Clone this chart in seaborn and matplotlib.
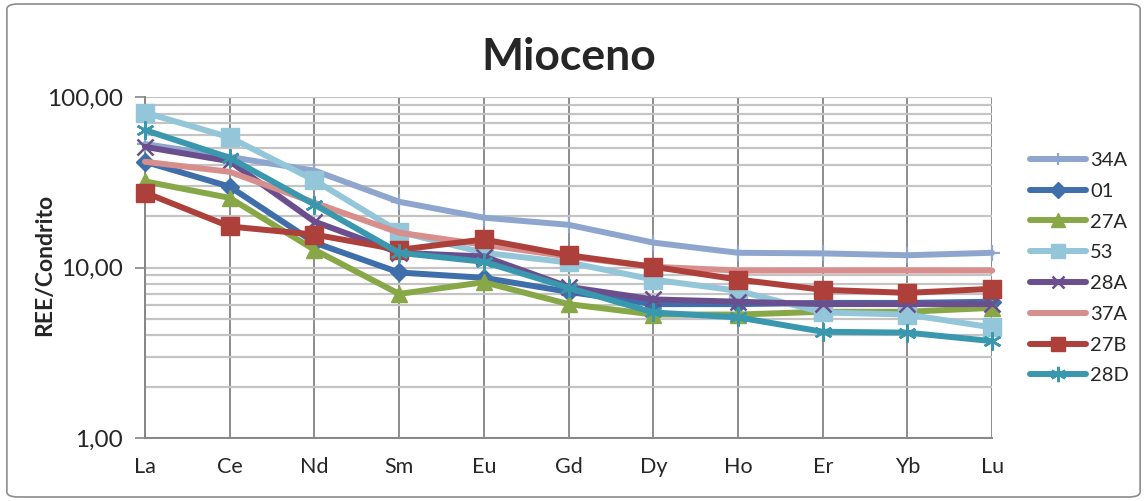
import matplotlib
matplotlib.use("Agg")
import matplotlib.pyplot as plt
import matplotlib.ticker as mticker
from matplotlib.patches import FancyBboxPatch
from matplotlib.lines import Line2D
import numpy as np
import pandas as pd
import seaborn as sns

# Rare earth elements (chondrite-normalised)
elements = ["La", "Ce", "Nd", "Sm", "Eu", "Gd", "Dy", "Ho", "Er", "Yb", "Lu"]

s34A = [53.0, 44.5, 37.0, 24.3, 19.6, 17.8, 14.0, 12.2, 12.1, 11.8, 12.2]
s01 = [41.7, 29.8, 14.0, 9.35, 8.7, 7.2, 6.1, 6.1, 6.2, 6.2, 6.3]
s27A = [32.0, 25.6, 12.7, 7.0, 8.2, 6.1, 5.3, 5.3, 5.5, 5.5, 5.8]
s53 = [81.0, 58.0, 32.5, 16.2, 12.2, 10.7, 8.5, 7.3, 5.45, 5.3, 4.45]
s28A = [51.0, 42.0, 18.6, 12.2, 11.6, 7.7, 6.5, 6.3, 6.1, 6.1, 6.1]
s37A = [41.7, 36.4, 24.0, 16.0, 13.6, 11.6, 10.1, 9.6, 9.6, 9.6, 9.6]
s27B = [27.5, 17.4, 15.6, 12.7, 14.6, 11.8, 10.1, 8.5, 7.4, 7.1, 7.5]
s28D = [64.0, 44.0, 23.4, 12.2, 10.8, 7.6, 5.45, 5.1, 4.2, 4.15, 3.7]

series_names = ["34A", "01", "27A", "53", "28A", "37A", "27B", "28D"]
series_values = [s34A, s01, s27A, s53, s28A, s37A, s27B, s28D]

title = "Mioceno"
ylabel = "REE/Condrito"

colors = {
    "34A": "#8EA6CE",
    "01": "#3F6FAA",
    "27A": "#88A848",
    "53": "#93C6D8",
    "28A": "#6B4E8E",
    "37A": "#D78E8C",
    "27B": "#AE403C",
    "28D": "#3A98AE",
}
markers = {
    "34A": ("+", 11, 1.6),
    "01": ("D", 9.5, 1.0),
    "27A": ("^", 11.5, 1.0),
    "53": ("s", 12.5, 1.0),
    "28A": ("x", 11, 1.8),
    "37A": ("None", 0, 0),
    "27B": ("s", 12.5, 1.0),
    "28D": ((6, 2, 0), 13, 1.8),
}

df = pd.DataFrame({
    "element": np.tile(elements, len(series_names)),
    "pos": np.tile(np.arange(len(elements)), len(series_names)),
    "sample": np.repeat(series_names, len(elements)),
    "value": np.concatenate(series_values),
})

sns.set_theme(style="white")
plt.rcParams["font.family"] = ["Lato", "DejaVu Sans"]

fig = plt.figure(figsize=(11.47, 5.01), dpi=100)
ax = fig.add_axes([0.1264, 0.1257, 0.7386, 0.6807])

for name in series_names:
    sub = df[df["sample"] == name]
    m, ms, mew = markers[name]
    sns.lineplot(data=sub, x="pos", y="value", ax=ax, color=colors[name],
                 linewidth=4.3, marker=m, markersize=ms, markeredgewidth=mew,
                 markeredgecolor=colors[name], markerfacecolor=colors[name],
                 clip_on=False, legend=False, zorder=3, solid_capstyle="round")

ax.set_yscale("log")
ax.set_ylim(1, 100)
ax.set_xlim(0, len(elements) - 1)
ax.set_xticks(np.arange(len(elements)))
ax.set_xticklabels(elements, fontsize=15.5)
ax.yaxis.set_major_locator(mticker.LogLocator(base=10, numticks=5))
ax.yaxis.set_minor_locator(mticker.LogLocator(base=10, subs=np.arange(2, 10), numticks=20))
ax.yaxis.set_major_formatter(mticker.FuncFormatter(lambda v, p: f"{v:.2f}".replace(".", ",")))
ax.yaxis.set_minor_formatter(mticker.NullFormatter())
ax.tick_params(axis="y", which="major", labelsize=17.5, length=7, width=1.2,
               color="#868686", direction="out", left=True, pad=9)
ax.tick_params(axis="y", which="minor", length=0)
ax.tick_params(axis="x", length=0, pad=14)

ax.grid(True, axis="y", which="both", color="#C4C4C4", linewidth=1.6, zorder=0)
ax.grid(True, axis="x", which="major", color="#8C8C8C", linewidth=1.4, zorder=0)
ax.set_axisbelow(True)

for side in ["top", "right"]:
    ax.spines[side].set_visible(False)
for side in ["left", "bottom"]:
    ax.spines[side].set_color("#868686")
    ax.spines[side].set_linewidth(1.4)

ax.set_xlabel("")
ax.set_ylabel("")
fig.text(0.039, 0.471, ylabel, fontsize=16.5, fontweight="bold", rotation=90,
         ha="center", va="center")
fig.text(0.496, 0.886, title, fontsize=32, fontweight="bold", ha="center", va="center")

handles = []
for name in series_names:
    m, ms, mew = markers[name]
    handles.append(Line2D([], [], color=colors[name], linewidth=4.3, marker=m,
                          markersize=ms * 0.85, markeredgewidth=mew,
                          markerfacecolor=colors[name], markeredgecolor=colors[name],
                          solid_capstyle="round"))
fig.legend(handles, series_names, loc="upper left", bbox_to_anchor=(0.8893, 0.717),
           frameon=False, fontsize=14.5, handlelength=2.78, handletextpad=0.2,
           labelspacing=0.68, borderpad=0)

border = FancyBboxPatch((0.006, 0.008), 0.988, 0.984, boxstyle="round,pad=0,rounding_size=0.01",
                        transform=fig.transFigure, facecolor="none",
                        edgecolor="#8C8C8C", linewidth=1.2)
fig.patches.append(border)

fig.savefig("out.png", dpi=100)
